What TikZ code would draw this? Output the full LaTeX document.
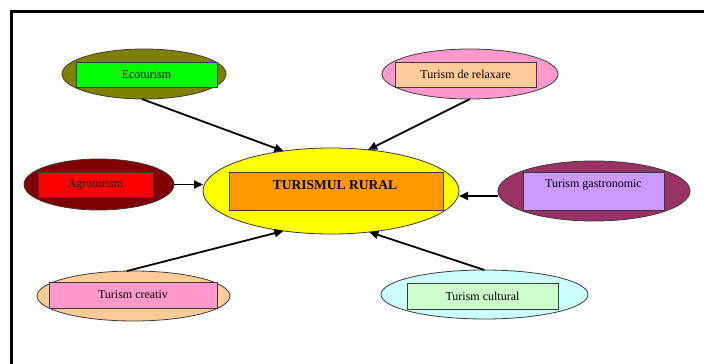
\documentclass[tikz,border=0pt]{standalone}
\usepackage{fontspec}
\setmainfont{Liberation Serif}
\usetikzlibrary{shapes.geometric,arrows.meta}
\definecolor{cOlive}{HTML}{808000}
\definecolor{cGreen}{HTML}{00FF00}
\definecolor{cPink}{HTML}{FF99CC}
\definecolor{cPeach}{HTML}{FFCC99}
\definecolor{cMaroon}{HTML}{800000}
\definecolor{cRed}{HTML}{FF0000}
\definecolor{cYellow}{HTML}{FFFF00}
\definecolor{cOrange}{HTML}{FF9900}
\definecolor{cPlum}{HTML}{993366}
\definecolor{cLav}{HTML}{CC99FF}
\definecolor{cCyan}{HTML}{CCFFFF}
\definecolor{cLGreen}{HTML}{CCFFCC}
\definecolor{cEdge}{HTML}{3A3A3A}
\tikzset{
  oval/.style={ellipse, draw=cEdge, line width=0.8pt, inner sep=0pt, outer sep=0pt},
  box/.style={rectangle, draw=cEdge, line width=1pt, inner sep=0pt, outer sep=0pt,
    font=\fontsize{12}{14}\selectfont},
  lbl/.style={inner sep=0pt, font=\fontsize{12}{14}\selectfont},
  arr/.style={line width=1.8pt, -{Triangle[length=9pt,width=8pt]}}
}
\begin{document}
\begin{tikzpicture}[x=1pt,y=-1pt]
\useasboundingbox (0,0) rectangle (704,364);
\fill[white] (0,0) rectangle (704,364);
\draw[line width=3pt] (11,364) -- (11,11.5) -- (704,11.5);

% ovals
\node[oval, fill=cOlive, minimum width=164pt, minimum height=50pt] (eco) at (144,74) {};
\node[oval, fill=cPink, minimum width=176pt, minimum height=50pt] (rel) at (470,74) {};
\node[oval, fill=cMaroon, minimum width=150pt, minimum height=51pt] (agro) at (99,184.5) {};
\node[oval, fill=cYellow, minimum width=256pt, minimum height=86pt] (c) at (331,191) {};
\node[oval, fill=cPlum, minimum width=192pt, minimum height=60pt] (gas) at (594,191) {};
\node[oval, fill=cPeach, minimum width=193pt, minimum height=50pt] (cre) at (133.5,296) {};
\node[oval, fill=cCyan, minimum width=207pt, minimum height=49pt] (cul) at (484.5,294.5) {};

% boxes
\node[box, fill=cGreen, minimum width=141pt, minimum height=25pt] (ecob) at (146.5,74.5) {Ecoturism};
\node[box, fill=cPeach, minimum width=141pt, minimum height=25pt] (relb) at (465.5,74.5) {Turism de relaxare};
\node[box, fill=cRed, minimum width=115pt, minimum height=25pt] (agrob) at (95.5,184.5) {Agroturism};
\node[box, fill=cOrange, minimum width=214pt, minimum height=38pt] (cb) at (336,191) {};
\node[lbl, font=\fontsize{13.5}{15}\selectfont\bfseries] (ct) at (335,185.5) {TURISMUL RURAL};
\node[box, fill=cLav, minimum width=141pt, minimum height=38pt] (gasb) at (593.5,191) {};
\node[lbl] (gt) at (593.5,184.5) {Turism gastronomic};
\node[box, fill=cPink, minimum width=168pt, minimum height=26pt] (creb) at (133,295) {Turism creativ};
\node[box, fill=cLGreen, minimum width=151pt, minimum height=26pt] (culb) at (482.5,296) {Turism cultural};

% arrows
\draw[arr] (eco.265) -- (c.140);
\draw[arr] (rel.south) -- (c.48);
\draw[arr] (agro.east) -- (agro.east -| c.west);
\draw[arr] ([yshift=-5pt]gas.west) -- ([yshift=-5pt]c.east);
\draw[arr] (cre.105) -- (c.220);
\draw[arr] (cul.north) -- (c.313);
\end{tikzpicture}
\end{document}
